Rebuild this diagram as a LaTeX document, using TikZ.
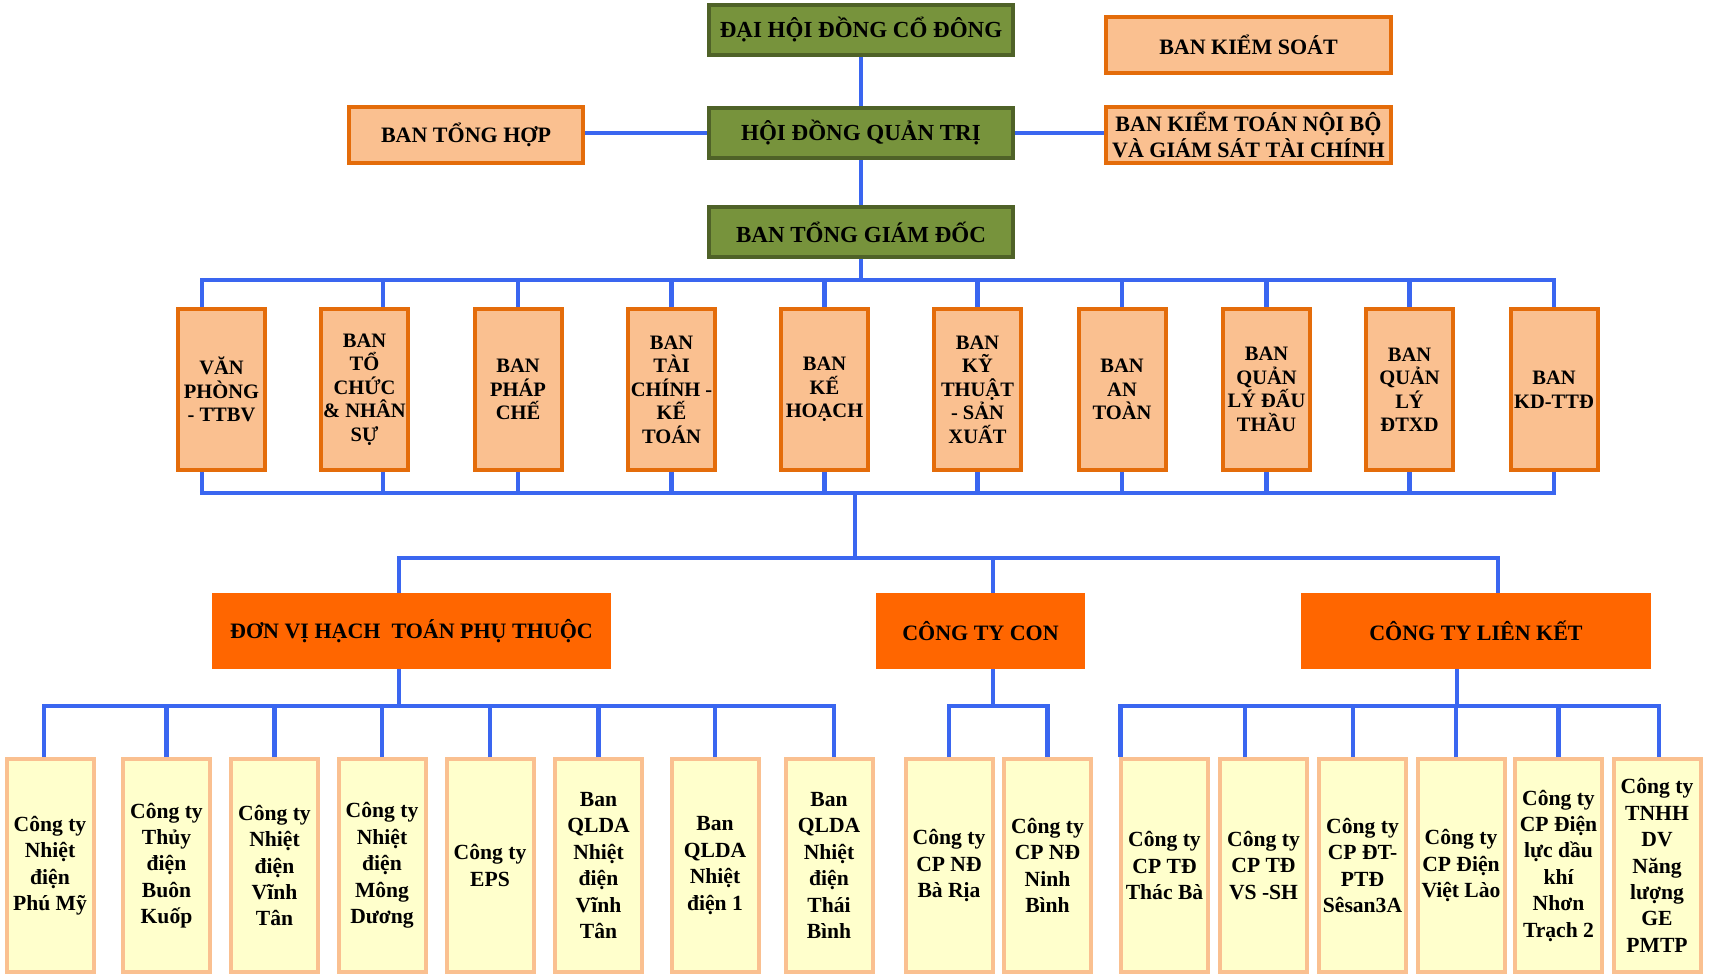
\documentclass[tikz,border=0pt]{standalone}
\usepackage{fontspec}
\setmainfont{Liberation Serif}
\definecolor{boardfill}{HTML}{77933C}
\definecolor{boardline}{HTML}{4F6228}
\definecolor{deptfill}{HTML}{FAC090}
\definecolor{deptline}{HTML}{E46C0A}
\definecolor{unitfill}{HTML}{FF6600}
\definecolor{subfill}{HTML}{FFFFCC}
\definecolor{subline}{HTML}{FAC090}
\definecolor{wireblue}{RGB}{58,102,240}
\begin{document}
\begin{tikzpicture}[x=0.5pt, y=-0.5pt,
    boardbox/.style={draw=boardline, fill=boardfill, line width=2pt, minimum width=152pt, minimum height=25pt, inner sep=0pt, font=\bfseries\fontsize{11.5}{13}\selectfont},
    sidebox/.style={draw=deptline, fill=deptfill, line width=2pt, minimum height=28pt, inner sep=0pt, align=center, font=\bfseries\fontsize{11}{13}\selectfont},
    deptbox/.style={draw=deptline, fill=deptfill, line width=2pt, minimum width=43.5pt, minimum height=80.5pt, inner sep=0pt, align=center, font=\bfseries\fontsize{10.25}{11.75}\selectfont},
    unitbox/.style={fill=unitfill, minimum height=38pt, inner sep=0pt, font=\bfseries\fontsize{11}{13}\selectfont},
    subbox/.style={draw=subline, fill=subfill, line width=2pt, minimum width=43.5pt, minimum height=106.5pt, inner sep=0pt, align=center, font=\bfseries\fontsize{10.8}{13.2}\selectfont},
    wire/.style={draw=wireblue, line width=2.2pt}]
    \useasboundingbox (0,0) rectangle (1712,976);
    \coordinate (bus1) at (0,280);
    \coordinate (bus2) at (0,493);
    \coordinate (bus3) at (0,558);
    \coordinate (bus4) at (0,706);

    \node[boardbox] (dhdcd) at (861,29.5) {ĐẠI HỘI ĐỒNG CỔ ĐÔNG};
    \node[boardbox] (hdqt) at (861,133) {HỘI ĐỒNG QUẢN TRỊ};
    \node[boardbox] (btgd) at (861,232) {BAN TỔNG GIÁM ĐỐC};
    \node[sidebox, minimum width=142.5pt] (bks) at (1248.5,45) {BAN KIỂM SOÁT};
    \node[sidebox, minimum width=142.5pt] (bktnb) at (1248.5,135) {BAN KIỂM TOÁN NỘI BỘ\\VÀ GIÁM SÁT TÀI CHÍNH};
    \node[sidebox, minimum width=117pt] (bth) at (466,135) {BAN TỔNG HỢP};

    \node[deptbox] (d1) at (221.5,389.5) {VĂN\\PHÒNG\\- TTBV};
    \node[deptbox] (d2) at (364.5,389.5) {BAN\\TỔ\\CHỨC\\\& NHÂN\\SỰ};
    \node[deptbox] (d3) at (518,389.5) {BAN\\PHÁP\\CHẾ};
    \node[deptbox] (d4) at (671.5,389.5) {BAN\\TÀI\\CHÍNH -\\KẾ\\TOÁN};
    \node[deptbox] (d5) at (824.5,389.5) {BAN\\KẾ\\HOẠCH};
    \node[deptbox] (d6) at (977.5,389.5) {BAN\\KỸ\\THUẬT\\- SẢN\\XUẤT};
    \node[deptbox] (d7) at (1122,389.5) {BAN\\AN\\TOÀN};
    \node[deptbox] (d8) at (1266.5,389.5) {BAN\\QUẢN\\LÝ ĐẤU\\THẦU};
    \node[deptbox] (d9) at (1409.5,389.5) {BAN\\QUẢN\\LÝ\\ĐTXD};
    \node[deptbox] (d10) at (1554,389.5) {BAN\\KD-TTĐ};

    \node[unitbox, minimum width=199.5pt] (dvht) at (411.5,631) {ĐƠN VỊ HẠCH\ \ TOÁN PHỤ THUỘC};
    \node[unitbox, minimum width=104.5pt] (ctc) at (980.5,631) {CÔNG TY CON};
    \node[unitbox, minimum width=175pt] (ctlk) at (1476,631) {CÔNG TY LIÊN KẾT};

    \node[subbox] (s1) at (50,865.5) {Công ty\\Nhiệt\\điện\\Phú Mỹ};
    \node[subbox] (s2) at (166.5,865.5) {Công ty\\Thủy\\điện\\Buôn\\Kuốp};
    \node[subbox] (s3) at (274.5,865.5) {Công ty\\Nhiệt\\điện\\Vĩnh\\Tân};
    \node[subbox] (s4) at (382,865.5) {Công ty\\Nhiệt\\điện\\Mông\\Dương};
    \node[subbox] (s5) at (490,865.5) {Công ty\\EPS};
    \node[subbox] (s6) at (598.5,865.5) {Ban\\QLDA\\Nhiệt\\điện\\Vĩnh\\Tân};
    \node[subbox] (s7) at (715,865.5) {Ban\\QLDA\\Nhiệt\\điện 1};
    \node[subbox] (s8) at (829,865.5) {Ban\\QLDA\\Nhiệt\\điện\\Thái\\Bình};
    \node[subbox] (s9) at (949,865.5) {Công ty\\CP NĐ\\Bà Rịa};
    \node[subbox] (s10) at (1047.5,865.5) {Công ty\\CP NĐ\\Ninh\\Bình};
    \node[subbox] (s11) at (1164.5,865.5) {Công ty\\CP TĐ\\Thác Bà};
    \node[subbox] (s12) at (1263.5,865.5) {Công ty\\CP TĐ\\VS -SH};
    \node[subbox] (s13) at (1362.5,865.5) {Công ty\\CP ĐT-\\PTĐ\\Sêsan3A};
    \node[subbox] (s14) at (1461,865.5) {Công ty\\CP Điện\\Việt Lào};
    \node[subbox] (s15) at (1558.5,865.5) {Công ty\\CP Điện\\lực dầu\\khí\\Nhơn\\Trạch 2};
    \node[subbox] (s16) at (1657,865.5) {Công ty\\TNHH\\DV\\Năng\\lượng\\GE\\PMTP};

    \draw[wire] (dhdcd) -- (hdqt);
    \draw[wire] (hdqt) -- (btgd);
    \draw[wire] (hdqt.west) -- (hdqt.west -| bth.east);
    \draw[wire] (hdqt.east) -- (hdqt.east -| bktnb.west);
    \draw[wire] (btgd) -- (btgd |- bus1);
    \draw[wire] ([xshift=-9.75pt]d1.north) |- (d10.north |- bus1) -- (d10.north);
    \draw[wire] ([xshift=-9.75pt]d1.south) |- (d10.south |- bus2) -- (d10.south);
    \draw[wire] ([xshift=9.25pt]d2.north) -- ([xshift=9.25pt]d2.north |- bus1);
    \draw[wire] ([xshift=9.25pt]d2.south) -- ([xshift=9.25pt]d2.south |- bus2);
    \foreach \i in {3,...,9} {
        \draw[wire] (d\i.north) -- (d\i.north |- bus1);
        \draw[wire] (d\i.south) -- (d\i.south |- bus2);
    }
    \draw[wire] ([xshift=-3pt]btgd.south |- bus2) -- ([xshift=-3pt]btgd.south |- bus3);
    \draw[wire] ([xshift=-6.25pt]dvht.north) |- ([xshift=11pt]ctlk.north |- bus3) -- ([xshift=11pt]ctlk.north);
    \draw[wire] ([xshift=6.25pt]ctc.north) -- ([xshift=6.25pt]ctc.north |- bus3);

    \draw[wire] ([xshift=-6.25pt]dvht.south) -- ([xshift=-6.25pt]dvht.south |- bus4);
    \draw[wire] ([xshift=-3pt]s1.north) |- ([xshift=2.5pt]s8.north |- bus4) -- ([xshift=2.5pt]s8.north);
    \foreach \i in {2,...,7}
        \draw[wire] (s\i.north) -- (s\i.north |- bus4);
    \draw[wire] ([xshift=6.25pt]ctc.south) -- ([xshift=6.25pt]ctc.south |- bus4);
    \draw[wire] (s9.north) |- (s10.north |- bus4) -- (s10.north);
    \draw[wire] ([xshift=-9.5pt]ctlk.south) -- ([xshift=-9.5pt]ctlk.south |- bus4);
    \draw[wire] ([xshift=-22pt]s11.north) |- ([xshift=1pt]s16.north |- bus4) -- ([xshift=1pt]s16.north);
    \foreach \i/\dx in {12/-9.25, 13/-4.75, 14/-2.5, 15/0}
        \draw[wire] ([xshift=\dx pt]s\i.north) -- ([xshift=\dx pt]s\i.north |- bus4);
\end{tikzpicture}
\end{document}
